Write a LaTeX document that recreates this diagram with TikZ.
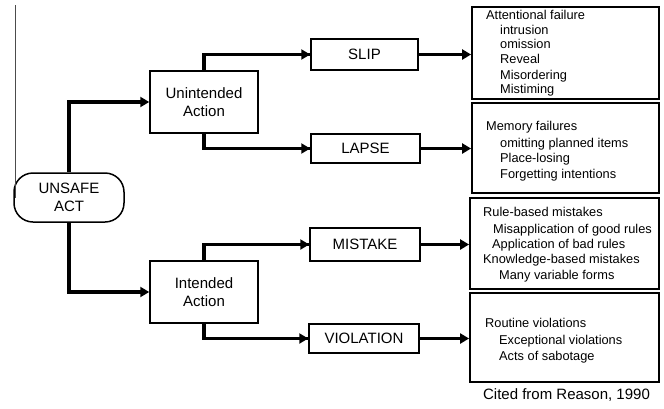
\documentclass[tikz,border=0pt]{standalone}
\usepackage{fontspec}
\setmainfont{Liberation Sans}
\usetikzlibrary{arrows.meta}
\begin{document}
\begin{tikzpicture}[x=1pt,y=-1pt,
  box/.style={draw=black,line width=1.5pt,fill=white,inner sep=0pt,align=center,
    font=\fontsize{15}{18}\selectfont},
  listbox/.style={draw=black,line width=1.8pt,inner sep=0pt},
  item/.style={inner sep=0pt,anchor=base west,font=\fontsize{12.8}{15}\selectfont},
  arr/.style={line width=3.2pt,-{Triangle[length=9pt,width=10pt]}},
  bracket/.style={line width=3.2pt}]
\useasboundingbox (0,0) rectangle (664,408);

% root and the two kinds of action
\node[box,rounded corners=19pt,minimum width=110pt,minimum height=49pt] (ua) at (69,197.5) {UNSAFE\\ACT};
\node[box,minimum width=108pt,minimum height=62pt] (unint) at (204,102) {Unintended\\Action};
\node[box,minimum width=108pt,minimum height=62pt] (int) at (204,292) {Intended\\Action};

% error types
\node[box,minimum width=107pt,minimum height=31pt] (slip) at (364.5,54.5) {SLIP};
\node[box,minimum width=109pt,minimum height=29pt] (lapse) at (365.5,148.5) {LAPSE};
\node[box,minimum width=110pt,minimum height=33pt] (mistake) at (365,244.5) {MISTAKE};
\node[box,minimum width=110pt,minimum height=29pt] (violation) at (364,338.5) {VIOLATION};

% description boxes
\node[listbox,minimum width=187pt,minimum height=92pt] (b1) at (565.5,53) {};
\node[listbox,minimum width=187pt,minimum height=90pt] (b2) at (565.5,148) {};
\node[listbox,minimum width=189pt,minimum height=91pt] (b3) at (564.5,243.5) {};
\node[listbox,minimum width=189pt,minimum height=89pt] (b4) at (564.5,337.5) {};

% thin rule entering the root from above
\coordinate (top) at (15,5);
\draw[gray!60!black,line width=0.8pt] (top) -- (top |- ua.west);

% connectors
\draw[arr] (ua.north) |- (unint.west);
\draw[arr] (ua.south) |- (int.west);
\draw[bracket] (unint.north) |- (slip.west);
\draw[bracket] (unint.south) |- (lapse.west);
\draw[bracket] (int.north) |- (mistake.west);
\draw[bracket] (int.south) |- (violation.west);
\draw[arr] (unint.north |- slip.west) -- (slip.west);
\draw[arr] (unint.south |- lapse.west) -- (lapse.west);
\draw[arr] (int.north |- mistake.west) -- (mistake.west);
\draw[arr] (int.south |- violation.west) -- (violation.west);
\draw[arr] (slip.east) -- (slip.east -| b1.west);
\draw[arr] (lapse.east) -- (lapse.east -| b2.west);
\draw[arr] (mistake.east) -- (mistake.east -| b3.west);
\draw[arr] (violation.east) -- (violation.east -| b4.west);

% slip descriptions
\node[item] (t11) at (486,19.5) {Attentional failure};
\node[item] (t12) at (500,34) {intrusion};
\node[item] (t13) at (500,48.5) {omission};
\node[item] (t14) at (500,63.5) {Reveal};
\node[item] (t15) at (500,79) {Misordering};
\node[item] (t16) at (500,93.5) {Mistiming};
% lapse descriptions
\node[item] (t21) at (486,130.5) {Memory failures};
\node[item] (t22) at (500,147) {omitting planned items};
\node[item] (t23) at (500,162.5) {Place-losing};
\node[item] (t24) at (500,178.5) {Forgetting intentions};
% mistake descriptions
\node[item] (t31) at (483,216.5) {Rule-based mistakes};
\node[item] (t32) at (493,233) {Misapplication of good rules};
\node[item] (t33) at (492,248.5) {Application of bad rules};
\node[item] (t34) at (483,263.5) {Knowledge-based mistakes};
\node[item] (t35) at (499,279.5) {Many variable forms};
% violation descriptions
\node[item] (t41) at (485,327.5) {Routine violations};
\node[item] (t42) at (499,344) {Exceptional violations};
\node[item] (t43) at (499,360.5) {Acts of sabotage};

\node[inner sep=0pt,font=\fontsize{15}{18}\selectfont] (cite) at (566.5,395) {Cited from Reason, 1990};
\end{tikzpicture}
\end{document}
